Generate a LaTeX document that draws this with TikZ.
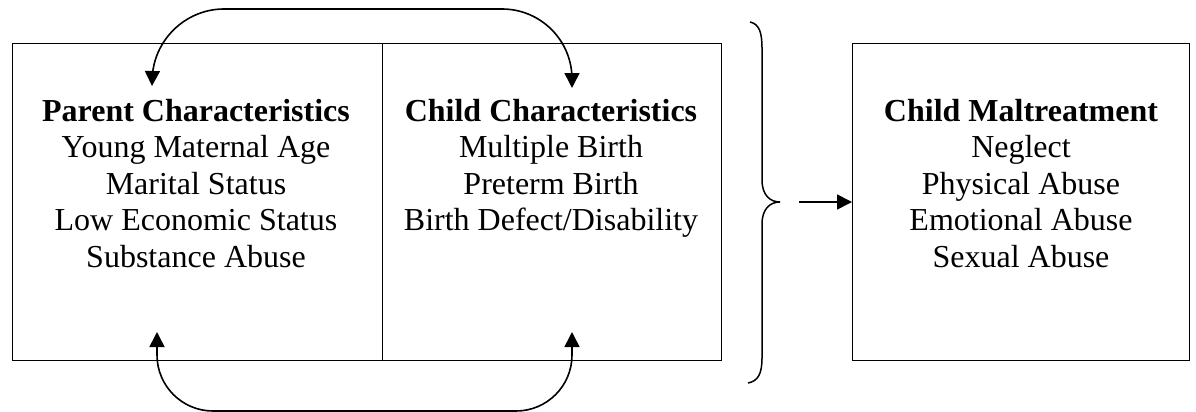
\documentclass[tikz,border=0pt]{standalone}
\usepackage{fontspec}
\setmainfont{Liberation Serif}
\usetikzlibrary{arrows.meta}
\begin{document}
\begin{tikzpicture}[x=1pt,y=-1pt,
  boxstyle/.style={draw=black, line width=1pt},
  txt/.style={align=center, inner sep=0pt, anchor=north, font=\fontsize{32}{36.5}\selectfont},
  conn/.style={line width=1.6pt, -{Triangle[length=15pt,width=15pt]}},
  bconn/.style={line width=1.6pt, {Triangle[length=15pt,width=15pt]}-{Triangle[length=15pt,width=15pt]}}
]
\useasboundingbox (0,0) rectangle (1196,412);
% boxes
\node[boxstyle, minimum width=370pt, minimum height=316pt, anchor=north west, inner sep=0] (pbox) at (11.5,43.5) {};
\node[boxstyle, minimum width=339pt, minimum height=316pt, anchor=north west, inner sep=0] (cbox) at (381.5,43.5) {};
\node[boxstyle, minimum width=337pt, minimum height=316pt, anchor=north west, inner sep=0] (mbox) at (852,43.5) {};
% texts
\node[txt] (ptxt) at (196,99) {\textbf{Parent Characteristics}\\Young Maternal Age\\Marital Status\\Low Economic Status\\Substance Abuse};
\node[txt] (ctxt) at (551,99) {\textbf{Child Characteristics}\\Multiple Birth\\Preterm Birth\\Birth Defect/Disability};
\node[txt] (mtxt) at (1021,99) {\textbf{Child Maltreatment}\\Neglect\\Physical Abuse\\Emotional Abuse\\Sexual Abuse};
% coordinates for arcs
\coordinate (tl) at (152,86);
\coordinate (tr) at (572,88);
\coordinate (bl) at (157,332);
\coordinate (br) at (572,332);
\draw[bconn, rounded corners=70pt] (tl) -- (154,9) -- (572,9) -- (tr);
\draw[bconn, rounded corners=56pt] (bl) -- (157,411) -- (572,411) -- (br);
% brace
\coordinate (btip) at (780,202);
\draw[line width=1.5pt] (750,22) .. controls (759,24) and (762,32) .. (762,48)
  -- (762,180) .. controls (762,195) and (770,202) .. (btip)
  .. controls (770,202) and (762,209) .. (762,224)
  -- (762,358) .. controls (762,374) and (758,381) .. (748,383);
\coordinate (astart) at (799,202);
\draw[conn] (astart) -- (mbox.west);
\end{tikzpicture}
\end{document}
